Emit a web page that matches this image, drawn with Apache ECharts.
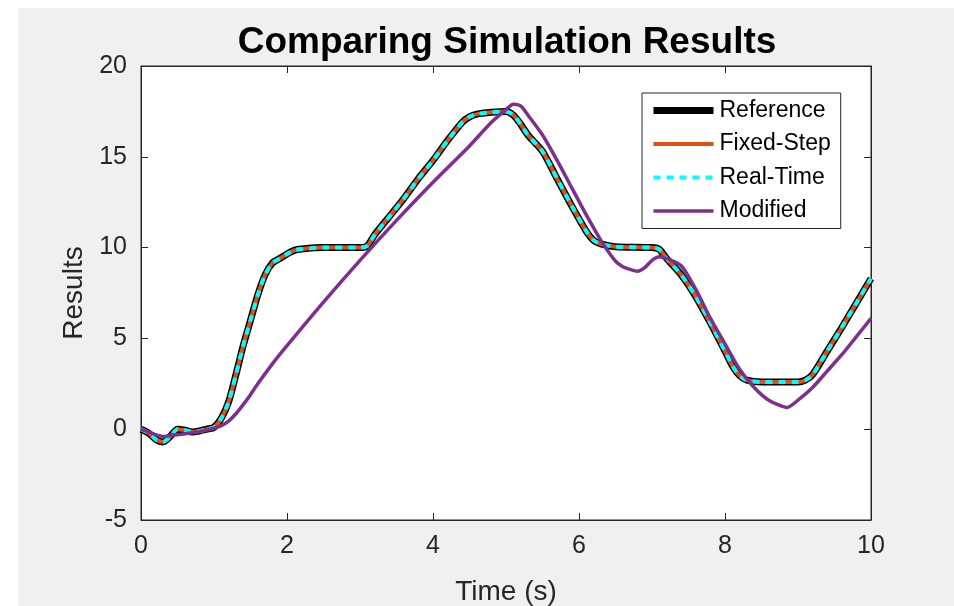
<!DOCTYPE html>
<html>
<head>
<meta charset="utf-8">
<script src="https://cdn.jsdelivr.net/npm/echarts@6/dist/echarts.min.js"></script>
<style>
  html, body { margin: 0; padding: 0; background: #fff; }
  #bg { position: absolute; left: 18px; top: 8px; width: 936px; height: 598px; background: #f0f0f0; }
  #chart { position: absolute; left: 0; top: 0; width: 954px; height: 606px; }
</style>
</head>
<body>
<div id="bg"></div>
<div id="chart"></div>
<script>
// reference run (fixed-step and real-time lie on top of it)
var refTime = [0, 0.1, 0.2, 0.3, 0.4, 0.5, 0.6, 0.7, 0.8, 0.9, 1.0, 1.1, 1.2, 1.3, 1.4, 1.5, 1.6, 1.7, 1.8, 1.9, 2.0, 2.1, 2.2, 2.5, 3.0, 3.1, 3.2, 3.4, 3.6, 3.8, 4.0, 4.2, 4.4, 4.5, 4.6, 4.8, 5.0, 5.1, 5.2, 5.3, 5.5, 5.7, 5.9, 6.1, 6.2, 6.3, 6.5, 7.0, 7.1, 7.2, 7.4, 7.6, 7.8, 8.0, 8.1, 8.2, 8.3, 8.5, 9.0, 9.1, 9.2, 9.4, 9.6, 9.8, 10.0]
var refValues = [0, -0.2, -0.55, -0.7, -0.4, 0.0, -0.05, -0.15, -0.1, 0.0, 0.1, 0.6, 1.5, 3.0, 4.6, 6.0, 7.4, 8.5, 9.15, 9.4, 9.65, 9.85, 9.92, 10.0, 10.0, 10.1, 10.7, 11.7, 12.7, 13.8, 14.8, 15.9, 16.9, 17.2, 17.35, 17.45, 17.5, 17.3, 16.8, 16.2, 15.3, 13.8, 12.3, 10.9, 10.4, 10.2, 10.05, 10.0, 9.9, 9.4, 8.5, 7.3, 5.85, 4.3, 3.5, 2.95, 2.7, 2.6, 2.6, 2.7, 3.0, 4.3, 5.6, 6.95, 8.3]
var fixedValues = refValues.slice()
var realTimeValues = refValues.slice()

// modified model
var modTime = [0, 0.1, 0.2, 0.3, 0.4, 0.5, 0.7, 0.9, 1.0, 1.1, 1.2, 1.3, 1.4, 1.5, 1.6, 1.8, 2.0, 2.5, 3.0, 3.5, 4.0, 4.5, 4.8, 5.0, 5.1, 5.2, 5.3, 5.5, 5.7, 5.9, 6.1, 6.3, 6.5, 6.6, 6.7, 6.8, 6.9, 7.0, 7.1, 7.2, 7.4, 7.6, 7.8, 8.0, 8.2, 8.4, 8.6, 8.85, 9.0, 9.2, 9.4, 9.6, 9.8, 10.0]
var modValues = [0, -0.15, -0.3, -0.4, -0.35, -0.3, -0.2, -0.05, 0.05, 0.2, 0.45, 0.85, 1.35, 1.9, 2.5, 3.6, 4.6, 7.0, 9.3, 11.5, 13.6, 15.6, 16.9, 17.6, 17.9, 17.8, 17.3, 16.2, 14.8, 13.3, 11.8, 10.4, 9.25, 8.95, 8.8, 8.7, 8.9, 9.3, 9.5, 9.4, 9.0, 7.7, 6.1, 4.7, 3.3, 2.3, 1.6, 1.2, 1.6, 2.3, 3.2, 4.1, 5.1, 6.1]

var xTicks = [0, 2, 4, 6, 8, 10]
var yTicks = [-5, 0, 5, 10, 15, 20]

function pairs(t, v) {
  return t.map(function (x, i) { return [x, v[i]] })
}

var font = 'Liberation Sans, Arial, Helvetica, sans-serif'
var axisColor = '#262626'

var myChart = echarts.init(document.getElementById('chart'))

var baseX = {
  type: 'value',
  min: xTicks[0],
  max: xTicks[xTicks.length - 1],
  interval: 2,
  splitLine: { show: false },
  axisLine: { show: true, onZero: false, lineStyle: { color: axisColor, width: 1 } },
  axisTick: { show: true, inside: true, length: 7, lineStyle: { color: axisColor } }
}
var baseY = {
  type: 'value',
  min: yTicks[0],
  max: yTicks[yTicks.length - 1],
  interval: 5,
  splitLine: { show: false },
  axisLine: { show: true, onZero: false, lineStyle: { color: axisColor, width: 1 } },
  axisTick: { show: true, inside: true, length: 7, lineStyle: { color: axisColor } }
}

var option = {
  animation: false,
  backgroundColor: 'transparent',
  title: {
    text: 'Comparing Simulation Results',
    left: 502,
    textAlign: 'center',
    top: 19,
    textStyle: { fontFamily: font, fontWeight: 'bold', fontSize: 37, color: '#000' }
  },
  grid: {
    left: 141,
    top: 66,
    right: 83,
    bottom: 86,
    outerBoundsMode: 'none',
    containLabel: false,
    show: true,
    backgroundColor: '#fff',
    borderColor: axisColor,
    borderWidth: 1
  },
  legend: {
    orient: 'vertical',
    left: 642,
    top: 93,
    itemWidth: 60,
    itemHeight: 22,
    itemGap: 10.5,
    padding: [6, 10, 6, 8],
    backgroundColor: '#fff',
    borderColor: axisColor,
    borderWidth: 1,
    borderRadius: 0,
    itemStyle: { opacity: 0 },
    lineStyle: { width: 'inherit', type: 'inherit' },
    textStyle: { fontFamily: font, fontSize: 23, color: '#000', padding: [0, 0, 0, 1] },
    data: ['Reference', 'Fixed-Step', 'Real-Time', 'Modified']
  },
  xAxis: [
    Object.assign({}, baseX, {
      position: 'bottom',
      name: 'Time (s)',
      nameLocation: 'middle',
      nameGap: 58,
      nameTextStyle: { fontFamily: font, fontSize: 28, color: axisColor },
      axisLabel: { fontFamily: font, fontSize: 25, color: axisColor, margin: 14 }
    }),
    Object.assign({}, baseX, { position: 'top', axisLabel: { show: false } })
  ],
  yAxis: [
    Object.assign({}, baseY, {
      position: 'left',
      name: 'Results',
      nameLocation: 'middle',
      nameGap: 46,
      nameTextStyle: { fontFamily: font, fontSize: 28, color: axisColor },
      axisLabel: { fontFamily: font, fontSize: 25, color: axisColor, margin: 14 }
    }),
    Object.assign({}, baseY, { position: 'right', axisLabel: { show: false } })
  ],
  series: [
    {
      name: 'Reference',
      type: 'line',
      symbol: 'none',
      smooth: 0.25,
      color: '#000',
      lineStyle: { color: '#000', width: 7 },
      data: pairs(refTime, refValues)
    },
    {
      name: 'Fixed-Step',
      type: 'line',
      symbol: 'none',
      smooth: 0.25,
      color: '#D95319',
      lineStyle: { color: '#D95319', width: 4 },
      data: pairs(refTime, fixedValues)
    },
    {
      name: 'Real-Time',
      type: 'line',
      symbol: 'none',
      smooth: 0.25,
      color: '#00FFFF',
      lineStyle: { color: '#00FFFF', width: 4, type: [7, 6] },
      data: pairs(refTime, realTimeValues)
    },
    {
      name: 'Modified',
      type: 'line',
      symbol: 'none',
      smooth: 0.25,
      color: '#7E2F8E',
      lineStyle: { color: '#7E2F8E', width: 3.5 },
      data: pairs(modTime, modValues)
    }
  ]
}

myChart.setOption(option)
</script>
</body>
</html>
